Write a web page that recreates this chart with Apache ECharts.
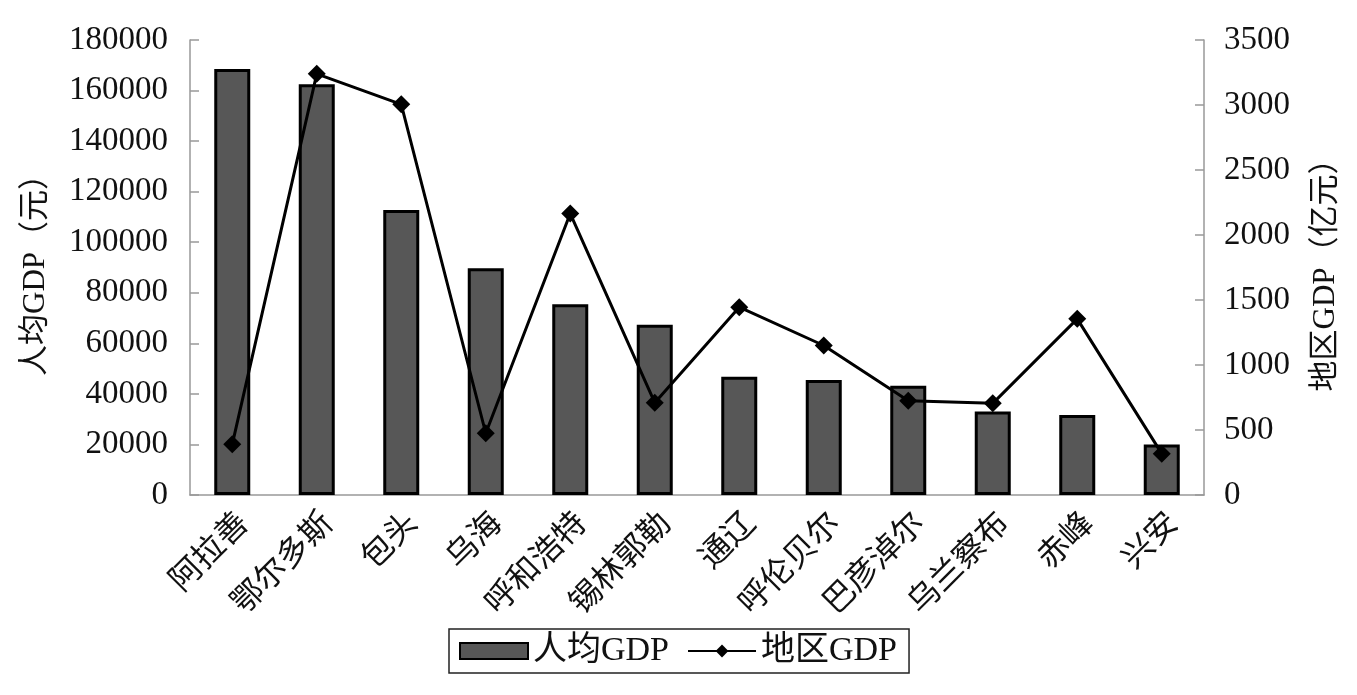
<!DOCTYPE html>
<html>
<head>
<meta charset="utf-8">
<script src="https://cdn.jsdelivr.net/npm/echarts@6/dist/echarts.min.js"></script>
<style>html,body{margin:0;padding:0;background:#fff;}#c{width:1357px;height:695px;}</style>
</head>
<body>
<div id="c"></div>
<script>
const categories = ['阿拉善','鄂尔多斯','包头','乌海','呼和浩特','锡林郭勒','通辽','呼伦贝尔','巴彦淖尔','乌兰察布','赤峰','兴安'];
const perCapitaGDP = [168500, 162500, 112700, 89700, 75500, 67400, 46800, 45500, 43200, 33000, 31600, 20000];
const regionalGDP = [390, 3240, 3005, 475, 2165, 710, 1445, 1150, 725, 705, 1355, 318];
const leftTicks = [0, 180000, 20000];
const rightTicks = [0, 3500, 500];

const FONT = "'Liberation Serif', 'Noto Sans CJK SC', serif";
const chart = echarts.init(document.getElementById('c'), null, {renderer: 'canvas'});
chart.setOption({
  animation: false,
  backgroundColor: '#fff',
  textStyle: {fontFamily: FONT, color: '#111'},
  grid: {left: 190, right: 153, top: 40, bottom: 200, containLabel: false, outerBoundsMode: 'none'},
  legend: {
    data: [{name: '人均GDP', icon: 'rect'}, {name: '地区GDP'}],
    left: 449, top: 629,
    padding: [5, 12, 5, 10],
    borderColor: '#222', borderWidth: 1.5,
    itemGap: 18, itemWidth: 68, itemHeight: 16,
    textStyle: {fontFamily: FONT, fontSize: 34, color: '#111'}
  },
  xAxis: {
    type: 'category', data: categories,
    axisLine: {lineStyle: {color: '#999', width: 1.5}},
    axisTick: {inside: true, length: 9, lineStyle: {color: '#999', width: 1.5}},
    axisLabel: {rotate: 45, fontSize: 32, margin: 36, padding: [0, -17, 0, 0], interval: 0, color: '#111', fontFamily: FONT}
  },
  yAxis: [{
    type: 'value', min: leftTicks[0], max: leftTicks[1], interval: leftTicks[2],
    name: '人均GDP（元）', nameLocation: 'middle', nameGap: 139, nameRotate: 90,
    nameTextStyle: {fontSize: 31, color: '#111', fontFamily: FONT},
    axisLine: {show: true, lineStyle: {color: '#999', width: 1.5}},
    axisTick: {show: true, inside: true, length: 9, lineStyle: {color: '#999', width: 1.5}},
    axisLabel: {fontSize: 33, margin: 22, color: '#111', fontFamily: FONT, formatter: v => String(v)},
    splitLine: {show: false}
  }, {
    type: 'value', min: rightTicks[0], max: rightTicks[1], interval: rightTicks[2],
    name: '地区GDP（亿元）', nameLocation: 'middle', nameGap: 106, nameRotate: 90,
    nameTextStyle: {fontSize: 31, color: '#111', fontFamily: FONT},
    axisLine: {show: true, lineStyle: {color: '#999', width: 1.5}},
    axisTick: {show: true, inside: true, length: 9, lineStyle: {color: '#999', width: 1.5}},
    axisLabel: {fontSize: 33, margin: 20, color: '#111', fontFamily: FONT, formatter: v => String(v)},
    splitLine: {show: false}
  }],
  series: [{
    name: '人均GDP', type: 'bar', yAxisIndex: 0, data: perCapitaGDP,
    barWidth: 36,
    itemStyle: {color: '#575757', borderColor: '#000', borderWidth: 3}
  }, {
    name: '地区GDP', type: 'line', yAxisIndex: 1, data: regionalGDP,
    symbol: 'diamond', symbolSize: 18,
    lineStyle: {color: '#000', width: 3},
    itemStyle: {color: '#000'}
  }]
});
</script>
</body>
</html>
